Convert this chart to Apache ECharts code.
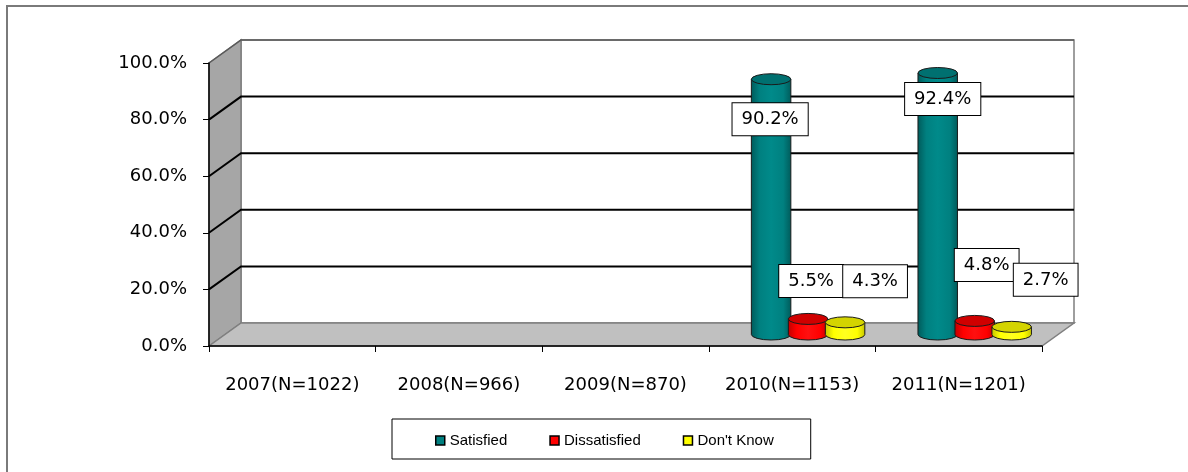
<!DOCTYPE html>
<html><head><meta charset="utf-8">
<script src="https://cdn.jsdelivr.net/npm/echarts@6/dist/echarts.min.js"></script>
<style>html,body{margin:0;padding:0;background:#fff}#c{width:1188px;height:472px}</style>
</head><body><div id="c"></div>
<script>
// ---- data ----
const categories = ['2007(N=1022)', '2008(N=966)', '2009(N=870)', '2010(N=1153)', '2011(N=1201)'];
const seriesNames = ['Satisfied', 'Dissatisfied', "Don't Know"];
const satisfied = [null, null, null, 90.2, 92.4];
const dissatisfied = [null, null, null, 5.5, 4.8];
const dontKnow = [null, null, null, 4.3, 2.7];
const yTicks = [0, 20, 40, 60, 80, 100];

// ---- layout / style ----
const DEPTH_X = 32, DEPTH_Y = -23;
const palette = [
  { base: '#008080', dark: '#005a5a', light: '#008a8a', top: '#007070' },
  { base: '#ff0000', dark: '#c00000', light: '#ff1010', top: '#d00000' },
  { base: '#ffff00', dark: '#c4c400', light: '#ffff20', top: '#d4d400' }
];
// label nudges (dx, dy) relative to the top centre of each cylinder, per series, per category
const labelNudge = [
  [null, null, null, [-1, 40], [5, 26]],
  [null, null, null, [3, -38], [12, -56]],
  [null, null, null, [30, -41], [34, -47]]
];
const TXT = 'DejaVu Sans';

const chart = echarts.init(document.getElementById('c'), null, { renderer: 'canvas' });

function wallsSeries() {
  return {
    type: 'custom', name: '_walls', silent: true, z: 1,
    coordinateSystem: 'cartesian2d',
    data: [[0, 0]],
    renderItem(params, api) {
      const cs = params.coordSys;
      const x0 = cs.x, y0 = cs.y, w = cs.width, h = cs.height;
      const yb = y0 + h;
      const ch = [];
      ch.push({ type: 'polygon', shape: { points: [[x0 + DEPTH_X, y0 + DEPTH_Y], [x0 + w + DEPTH_X, y0 + DEPTH_Y], [x0 + w + DEPTH_X, yb + DEPTH_Y], [x0 + DEPTH_X, yb + DEPTH_Y]] },
        style: { fill: '#ffffff', stroke: '#7f7f7f', lineWidth: 1.5 } });
      ch.push({ type: 'polygon', shape: { points: [[x0, y0], [x0 + DEPTH_X, y0 + DEPTH_Y], [x0 + DEPTH_X, yb + DEPTH_Y], [x0, yb]] },
        style: { fill: '#a6a6a6', stroke: '#7f7f7f', lineWidth: 1.5 } });
      ch.push({ type: 'polygon', shape: { points: [[x0, yb], [x0 + DEPTH_X, yb + DEPTH_Y], [x0 + w + DEPTH_X, yb + DEPTH_Y], [x0 + w, yb]] },
        style: { fill: '#c0c0c0', stroke: '#7f7f7f', lineWidth: 1.5 } });
      yTicks.forEach(t => {
        if (t === yTicks[0]) return;
        const y = api.coord([0, t])[1];
        const isTop = t === yTicks[yTicks.length - 1];
        ch.push({ type: 'polyline', shape: { points: [[x0, y], [x0 + DEPTH_X, y + DEPTH_Y], [x0 + w + DEPTH_X, y + DEPTH_Y]] },
          style: { fill: null, stroke: isTop ? '#5a5a5a' : '#000000', lineWidth: isTop ? 1.5 : 2 } });
      });
      return { type: 'group', children: ch };
    }
  };
}

function cylinderSeries(name, values, si) {
  const pal = palette[si];
  return {
    type: 'custom', name, z: 3 + si,
    coordinateSystem: 'cartesian2d',
    itemStyle: { color: pal.base },
    encode: { x: 0, y: 1 },
    data: values.map((v, i) => [i, v]),
    renderItem(params, api) {
      const v = api.value(1);
      if (v == null || isNaN(v)) return null;
      const c = api.value(0);
      const top = api.coord([c, v]);
      const base = api.coord([c, 0]);
      const band = api.size([1, 0])[0];
      const rx = band * 0.237 / 2, ry = 5.5;
      const cx = top[0] + (si - 1) * band * 0.222 + DEPTH_X / 2;
      const yt = top[1] + DEPTH_Y / 2, yb = base[1] + DEPTH_Y / 2;
      const body = `M${cx - rx},${yt} L${cx - rx},${yb} A${rx},${ry} 0 0 0 ${cx + rx},${yb} L${cx + rx},${yt} Z`;
      const cap = `M${cx - rx},${yt} A${rx},${ry} 0 1 0 ${cx + rx},${yt} A${rx},${ry} 0 1 0 ${cx - rx},${yt} Z`;
      const grad = { type: 'linear', x: 0, y: 0, x2: 1, y2: 0, colorStops: [
        { offset: 0, color: pal.dark }, { offset: 0.22, color: pal.base }, { offset: 0.5, color: pal.light },
        { offset: 0.8, color: pal.base }, { offset: 1, color: pal.dark }] };
      const ch = [
        { type: 'path', shape: { pathData: body }, style: { fill: grad, stroke: '#1a1a1a', lineWidth: 1 } },
        { type: 'path', shape: { pathData: cap }, style: { fill: pal.top, stroke: '#1a1a1a', lineWidth: 1 } }
      ];
      const nudge = labelNudge[si][c];
      if (nudge) {
        ch.push({ type: 'text', z2: 10, style: {
          text: v.toFixed(1) + '%', x: cx + nudge[0], y: yt + nudge[1], align: 'center', verticalAlign: 'middle',
          font: `18px "${TXT}"`, fill: '#000', backgroundColor: '#fff', borderColor: '#000', borderWidth: 1,
          padding: [6, 9], lineHeight: 20 } });
      }
      return { type: 'group', children: ch };
    }
  };
}

const option = {
  animation: false,
  backgroundColor: '#ffffff',
  graphic: [{ type: 'rect', shape: { x: 7, y: 6, width: 1300, height: 600 }, style: { fill: null, stroke: '#7a7a7a', lineWidth: 2 }, z: 0 }],
  grid: { left: 209, top: 63, width: 833, height: 283 },
  legend: {
    data: seriesNames.map((n, i) => ({ name: n, icon: 'rect', itemStyle: { color: palette[i].base, borderColor: '#000', borderWidth: 1.5 } })),
    left: 392, top: 419, orient: 'horizontal',
    padding: [14, 37, 11, 43], itemGap: 42, itemWidth: 9, itemHeight: 9,
    borderColor: '#000', borderWidth: 1,
    textStyle: { fontFamily: 'Liberation Sans', fontSize: 15, color: '#000' }
  },
  xAxis: {
    type: 'category', data: categories, z: 10,
    axisLine: { lineStyle: { color: '#000', width: 1.5 } },
    axisTick: { show: true, length: 6, lineStyle: { color: '#000' } },
    axisLabel: { margin: 30, fontFamily: TXT, fontSize: 18, color: '#000', interval: 0 },
    splitLine: { show: false }
  },
  yAxis: {
    type: 'value', min: yTicks[0], max: yTicks[yTicks.length - 1], interval: yTicks[1] - yTicks[0], z: 10,
    axisLine: { show: true, lineStyle: { color: '#000', width: 1.5 } },
    axisTick: { show: true, length: 6, lineStyle: { color: '#000' } },
    axisLabel: { margin: 22, fontFamily: TXT, fontSize: 18, color: '#000', formatter: v => v.toFixed(1) + '%' },
    splitLine: { show: false }
  },
  series: [
    wallsSeries(),
    cylinderSeries(seriesNames[0], satisfied, 0),
    cylinderSeries(seriesNames[1], dissatisfied, 1),
    cylinderSeries(seriesNames[2], dontKnow, 2)
  ]
};
chart.setOption(option);
</script>
</body></html>
